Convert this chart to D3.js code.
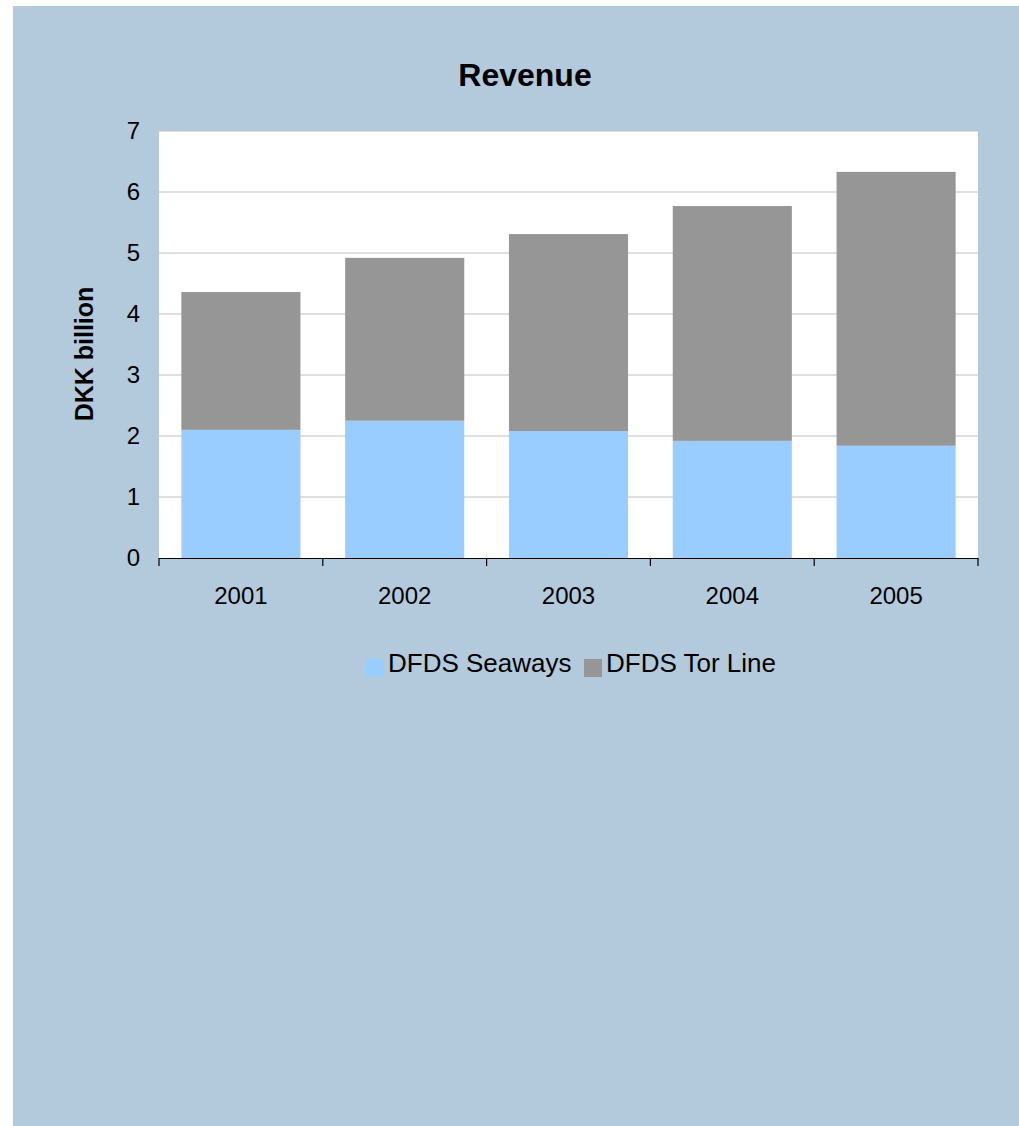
<!DOCTYPE html>
<html>
<head>
<meta charset="utf-8">
<script src="https://cdn.jsdelivr.net/npm/d3@7"></script>
<style>
  body { margin: 0; background: #ffffff; }
  text { font-family: Arial, "Liberation Sans", sans-serif; fill: #000; }
</style>
</head>
<body>
<div class="chart"></div>
<script>
// Data
var years = ["2001", "2002", "2003", "2004", "2005"];
var seaways = [2.10, 2.25, 2.08, 1.92, 1.84];
var torLine = [2.26, 2.67, 3.23, 3.85, 4.49];
var seriesNames = ["DFDS Seaways", "DFDS Tor Line"];
var seriesColors = ["#99ccff", "#969696"];
var yTicks = [0, 1, 2, 3, 4, 5, 6, 7];

renderChart();

function renderChart() {
  var svgWidth = 1019;
  var svgHeight = 1126;
  var margin = { top: 131, left: 159 };
  var width = 819;
  var height = 427;

  var svg = d3.select(".chart")
    .append("svg")
    .attr("width", svgWidth)
    .attr("height", svgHeight);

  // panel background
  svg.append("rect")
    .attr("x", 13)
    .attr("y", 6)
    .attr("width", svgWidth - 13)
    .attr("height", svgHeight - 6)
    .attr("fill", "#b3cadc");

  // title
  svg.append("text")
    .attr("x", 525)
    .attr("y", 86)
    .attr("text-anchor", "middle")
    .attr("font-size", "32px")
    .attr("font-weight", "bold")
    .text("Revenue");

  var chart = svg.append("g")
    .attr("transform", "translate(" + margin.left + "," + margin.top + ")");

  chart.append("rect")
    .attr("width", width)
    .attr("height", height)
    .attr("fill", "#ffffff");

  var xBandScale = d3.scaleBand()
    .domain(years)
    .range([0, width])
    .paddingInner(0.273)
    .paddingOuter(0.1365);

  var yLinearScale = d3.scaleLinear()
    .domain([0, 7])
    .range([height, 0]);

  // gridlines
  chart.selectAll(".grid")
    .data(yTicks.filter(function(d) { return d > 0; }))
    .enter()
    .append("line")
    .attr("class", "grid")
    .attr("x1", 0)
    .attr("x2", width)
    .attr("y1", function(d) { return yLinearScale(d); })
    .attr("y2", function(d) { return yLinearScale(d); })
    .attr("stroke", "#c0c0c0")
    .attr("stroke-width", 1);

  // stacked data
  var rows = years.map(function(y, i) {
    return { year: y, seaways: seaways[i], torLine: torLine[i] };
  });
  var stack = d3.stack().keys(["seaways", "torLine"]);
  var layers = stack(rows);

  chart.selectAll(".layer")
    .data(layers)
    .enter()
    .append("g")
    .attr("class", "layer")
    .attr("fill", function(d, i) { return seriesColors[i]; })
    .selectAll("rect")
    .data(function(d) { return d; })
    .enter()
    .append("rect")
    .attr("x", function(d) { return xBandScale(d.data.year); })
    .attr("width", xBandScale.bandwidth())
    .attr("y", function(d) { return yLinearScale(d[1]); })
    .attr("height", function(d) { return yLinearScale(d[0]) - yLinearScale(d[1]); });

  // y tick labels
  var leftAxis = d3.axisLeft(yLinearScale)
    .tickValues(yTicks)
    .tickFormat(d3.format("d"))
    .tickSize(0)
    .tickPadding(19);
  var yAxis = chart.append("g").call(leftAxis);
  yAxis.select(".domain").remove();
  yAxis.selectAll("text")
    .attr("font-size", "24px")
    .attr("font-family", "Arial, 'Liberation Sans', sans-serif")
    .attr("fill", "#000");

  // x axis with ticks at category boundaries
  chart.append("line")
    .attr("x1", 0)
    .attr("x2", width)
    .attr("y1", height + 0.5)
    .attr("y2", height + 0.5)
    .attr("stroke", "#000")
    .attr("stroke-width", 1.2);

  var boundaries = d3.range(years.length + 1).map(function(i) { return i * width / years.length; });
  chart.selectAll(".xtick")
    .data(boundaries)
    .enter()
    .append("line")
    .attr("class", "xtick")
    .attr("x1", function(d) { return d; })
    .attr("x2", function(d) { return d; })
    .attr("y1", height)
    .attr("y2", height + 8)
    .attr("stroke", "#000")
    .attr("stroke-width", 1.2);

  chart.selectAll(".xlabel")
    .data(years)
    .enter()
    .append("text")
    .attr("class", "xlabel")
    .attr("x", function(d) { return xBandScale(d) + xBandScale.bandwidth() / 2; })
    .attr("y", height + 46)
    .attr("text-anchor", "middle")
    .attr("font-size", "24px")
    .text(function(d) { return d; });

  // y axis title
  svg.append("text")
    .attr("transform", "translate(93,354) rotate(-90)")
    .attr("text-anchor", "middle")
    .attr("font-size", "25px")
    .attr("font-weight", "bold")
    .text("DKK billion");

  // legend
  var legendItems = [
    { name: seriesNames[0], color: seriesColors[0], x: 366 },
    { name: seriesNames[1], color: seriesColors[1], x: 584 }
  ];
  var legend = svg.selectAll(".legend")
    .data(legendItems)
    .enter()
    .append("g")
    .attr("class", "legend")
    .attr("transform", function(d) { return "translate(" + d.x + ",659)"; });
  legend.append("rect")
    .attr("width", 18)
    .attr("height", 18)
    .attr("fill", function(d) { return d.color; });
  legend.append("text")
    .attr("x", 22)
    .attr("y", 13)
    .attr("font-size", "26px")
    .text(function(d) { return d.name; });
}
</script>
</body>
</html>
